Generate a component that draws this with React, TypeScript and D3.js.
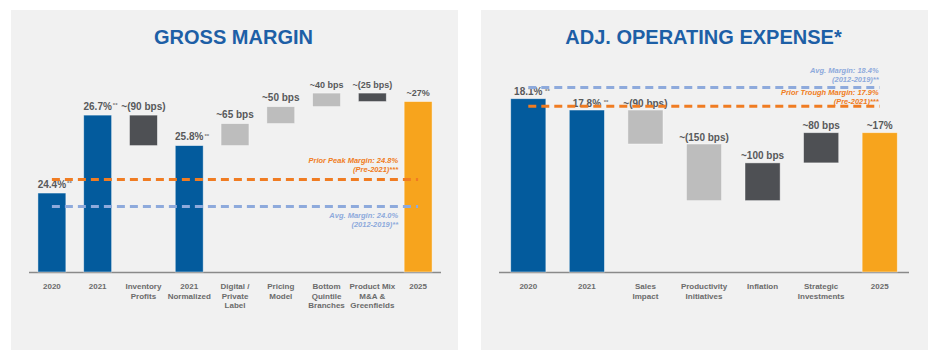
import React, { useEffect, useRef } from 'react';
import * as d3 from 'd3';

// ---- Gross margin walk (%)
const gmTitle = 'GROSS MARGIN';
const gmCategories = [
  ['2020'], ['2021'], ['Inventory', 'Profits'], ['2021', 'Normalized'],
  ['Digital /', 'Private', 'Label'], ['Pricing', 'Model'], ['Bottom', 'Quintile', 'Branches'],
  ['Product Mix', 'M&A &', 'Greenfields'], ['2025'],
];
const gmKinds = ['total', 'total', 'delta', 'total', 'delta', 'delta', 'delta', 'delta', 'total'];
const gmValues = [24.4, 26.7, -0.9, 25.8, 0.65, 0.5, 0.4, -0.25, 27.1];
const gmLabels = ['24.4%', '26.7%', '~(90 bps)', '25.8%', '~65 bps', '~50 bps', '~40 bps', '~(25 bps)', '~27%'];
const gmNotes = ['**', '**', '', '**', '', '', '', '', ''];
const gmRefValues = [24.8, 24.0];
const gmRefText = [['Prior Peak Margin: 24.8%', '(Pre-2021)***'], ['Avg. Margin: 24.0%', '(2012-2019)**']];

// ---- Adj. operating expense walk (%)
const opTitle = 'ADJ. OPERATING EXPENSE*';
const opCategories = [
  ['2020'], ['2021'], ['Sales', 'Impact'], ['Productivity', 'Initiatives'],
  ['Inflation'], ['Strategic', 'Investments'], ['2025'],
];
const opKinds = ['total', 'total', 'delta', 'delta', 'delta', 'delta', 'total'];
const opValues = [18.1, 17.8, -0.9, -1.5, 1.0, 0.8, 17.2];
const opLabels = ['18.1%', '17.8%', '~(90 bps)', '~(150 bps)', '~100 bps', '~80 bps', '~17%'];
const opNotes = [' **', ' **', '', '', '', '', ''];
const opRefValues = [18.4, 17.9];
const opRefText = [['Avg. Margin: 18.4%', '(2012-2019)**'], ['Prior Trough Margin: 17.9%', '(Pre-2021)***']];

const BLUE = '#035b9d';
const DARK = '#4e5054';
const LIGHT = '#bdbdbd';
const GOLD = '#f7a41d';
const ORANGE = '#f07c22';
const SKY = '#8eaadc';
const FONT = '"Liberation Sans", Arial, sans-serif';

interface WaterfallConfig {
  title: string;
  categories: string[][];
  kinds: string[];
  values: number[];
  labels: string[];
  notes: string[];
  refValues: number[];
  refText: string[][];
  fills: string[];
  refColors: string[];
  refOffsets: number[][];
  panelX: number;
  x0: number;
  x1: number;
  barPad: number;
  yDomain: [number, number];
  yTop: number;
  smallLabels: number[];
  labelGap: number;
  annoShift: number;
}

const W = 940;
const H = 352;
const BASE = 272;

function drawWaterfall(svg: d3.Selection<SVGSVGElement, unknown, null, undefined>, cfg: WaterfallConfig) {
  const g = svg.append('g');
  const panelW = 447;

  g.append('rect')
    .attr('x', cfg.panelX)
    .attr('y', 10)
    .attr('width', panelW)
    .attr('height', 340)
    .attr('fill', '#f1f1f1');

  g.append('text')
    .attr('x', cfg.panelX + panelW / 2 - 1)
    .attr('y', 44)
    .attr('text-anchor', 'middle')
    .style('font-family', FONT)
    .style('font-weight', 700)
    .style('font-size', '20px')
    .attr('fill', '#1d5fa6')
    .text(cfg.title);

  const keys = cfg.categories.map((_, i) => String(i));
  const x = d3.scaleBand()
    .domain(keys)
    .range([cfg.x0, cfg.x1])
    .paddingInner(cfg.barPad)
    .paddingOuter(cfg.barPad / 2);
  const y = d3.scaleLinear().domain(cfg.yDomain).range([BASE, cfg.yTop]);

  // running totals for the floating bars
  let run = 0;
  const bars = cfg.values.map((v, i) => {
    if (cfg.kinds[i] === 'total') {
      run = v;
      return { lo: cfg.yDomain[0], hi: v };
    }
    const start = run;
    run = run + v;
    return { lo: Math.min(start, run), hi: Math.max(start, run) };
  });

  // axis line
  g.append('line')
    .attr('x1', cfg.x0)
    .attr('x2', cfg.x1)
    .attr('y1', y(cfg.yDomain[0]) + 0.5)
    .attr('y2', y(cfg.yDomain[0]) + 0.5)
    .attr('stroke', '#8a8a8a')
    .attr('stroke-width', 1.6);

  g.selectAll('.bar')
    .data(bars)
    .enter()
    .append('rect')
    .attr('class', 'bar')
    .attr('x', (_, i) => x(keys[i])!)
    .attr('width', x.bandwidth())
    .attr('y', d => y(d.hi))
    .attr('height', d => y(d.lo) - y(d.hi))
    .attr('fill', (_, i) => cfg.fills[i])
    .attr('stroke', 'rgba(255,255,255,0.55)')
    .attr('stroke-width', 0.8);

  // value labels
  bars.forEach((b, i) => {
    const cx = x(keys[i])! + x.bandwidth() / 2;
    const ty = y(b.hi) - cfg.labelGap;
    const size = cfg.smallLabels.includes(i) ? 9 : 10;
    const t = g.append('text')
      .attr('x', cx)
      .attr('y', ty)
      .attr('text-anchor', 'middle')
      .style('font-family', FONT)
      .style('font-weight', 700)
      .style('font-size', `${size}px`)
      .attr('fill', '#58595b')
      .text(cfg.labels[i]);
    if (cfg.notes[i]) {
      const len = (t.node() as SVGTextElement).getComputedTextLength();
      g.append('text')
        .attr('x', cx + len / 2 + 1)
        .attr('y', ty - 2.5)
        .style('font-family', FONT)
        .style('font-weight', 700)
        .style('font-size', '6px')
        .style('white-space', 'pre')
        .attr('fill', '#7a7a7a')
        .text(cfg.notes[i]);
    }
  });

  // reference lines
  const first = x(keys[0])! + x.bandwidth() / 2;
  const last = x(keys[keys.length - 1])! + x.bandwidth() / 2;
  cfg.refValues.forEach((v, i) => {
    const ly = y(v);
    g.append('line')
      .attr('x1', first)
      .attr('x2', last)
      .attr('y1', ly)
      .attr('y2', ly)
      .attr('stroke', cfg.refColors[i])
      .attr('stroke-width', 3)
      .attr('stroke-dasharray', '8 5');
    cfg.refText[i].forEach((line, j) => {
      g.append('text')
        .attr('x', last + cfg.annoShift)
        .attr('y', ly + cfg.refOffsets[i][j])
        .attr('text-anchor', 'end')
        .style('font-family', FONT)
        .style('font-weight', 700)
        .style('font-style', 'italic')
        .style('font-size', '7.5px')
        .attr('fill', cfg.refColors[i])
        .text(line);
    });
  });

  // category labels
  cfg.categories.forEach((lines, i) => {
    const cx = x(keys[i])! + x.bandwidth() / 2;
    lines.forEach((line, j) => {
      g.append('text')
        .attr('x', cx)
        .attr('y', BASE + 17 + j * 9.5)
        .attr('text-anchor', 'middle')
        .style('font-family', FONT)
        .style('font-weight', 700)
        .style('font-size', '8px')
        .attr('fill', '#6b6b6b')
        .text(line);
    });
  });
}

export default function App() {
  const svgRef = useRef<SVGSVGElement>(null);

  useEffect(() => {
    const el = svgRef.current;
    if (!el) return;
    const svg = d3.select(el);
    svg.selectAll('*').remove();

    drawWaterfall(svg, {
      title: gmTitle,
      categories: gmCategories,
      kinds: gmKinds,
      values: gmValues,
      labels: gmLabels,
      notes: gmNotes,
      refValues: gmRefValues,
      refText: gmRefText,
      fills: [BLUE, BLUE, DARK, BLUE, LIGHT, LIGHT, LIGHT, DARK, GOLD],
      refColors: [ORANGE, SKY],
      refOffsets: [[-16, -7], [11, 20]],
      panelX: 11,
      x0: 29,
      x1: 441,
      barPad: 0.39,
      yDomain: [22.07, 27.5],
      yTop: 88,
      smallLabels: [6, 7, 8],
      labelGap: 5.5,
      annoShift: -20,
    });

    drawWaterfall(svg, {
      title: opTitle,
      categories: opCategories,
      kinds: opKinds,
      values: opValues,
      labels: opLabels,
      notes: opNotes,
      refValues: opRefValues,
      refText: opRefText,
      fills: [BLUE, BLUE, LIGHT, LIGHT, DARK, DARK, GOLD],
      refColors: [SKY, ORANGE],
      refOffsets: [[-14.5, -5.5], [-11.5, -2.5]],
      panelX: 481,
      x0: 499,
      x1: 909,
      barPad: 0.4,
      yDomain: [13.51, 18.5],
      yTop: 83.6,
      smallLabels: [],
      labelGap: 3.5,
      annoShift: -1,
    });

    return () => {
      svg.selectAll('*').remove();
    };
  }, []);

  return (
    <svg
      ref={svgRef}
      width={W}
      height={H}
      style={{ position: 'absolute', left: 0, top: 0, background: '#ffffff' }}
    />
  );
}
